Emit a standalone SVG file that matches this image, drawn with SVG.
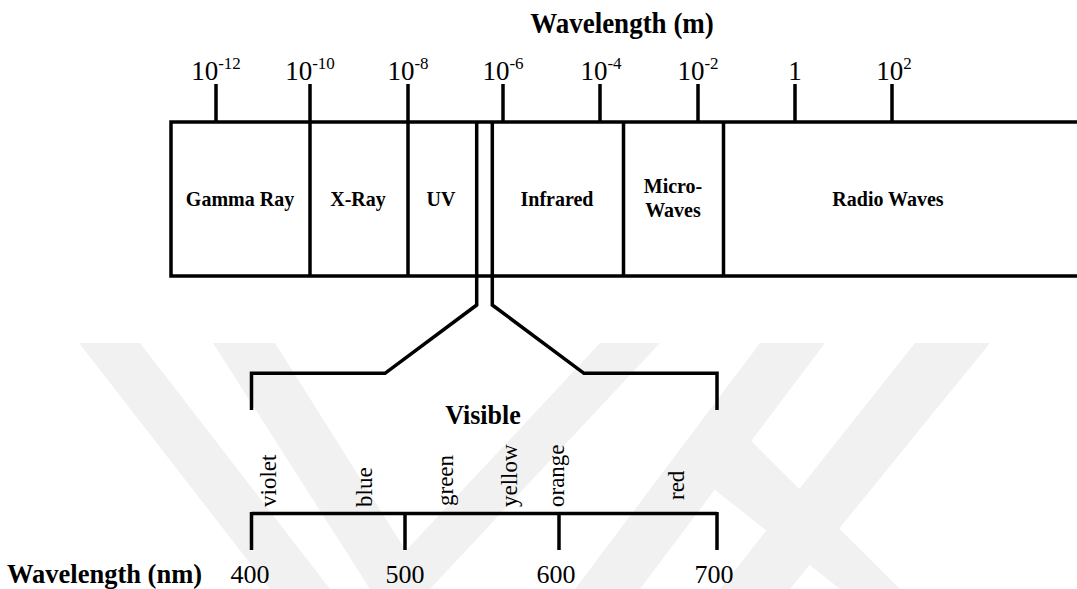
<svg xmlns="http://www.w3.org/2000/svg" width="1077" height="589" viewBox="0 0 1077 589">
<style>
.ln{stroke:#000;stroke-width:3.5;fill:none;stroke-linecap:butt;stroke-linejoin:miter}
.t{font-family:"Liberation Serif","Times New Roman",serif;fill:#000}
.b{font-weight:bold}
.lab{font-family:"Liberation Serif","Times New Roman",serif;font-weight:bold;font-size:20px;text-anchor:middle;fill:#000}
.tick{font-family:"Liberation Serif","Times New Roman",serif;font-size:27px;text-anchor:middle;fill:#000}
.col{font-family:"Liberation Serif","Times New Roman",serif;font-size:23px;fill:#000}
.num{font-family:"Liberation Serif","Times New Roman",serif;font-size:26px;text-anchor:middle;fill:#000}
.wm{fill:#f1f1f1}
</style>
<rect width="1077" height="589" fill="#fff"/>
<g id="watermark">
<polygon class="wm" points="79,343 140,343 330,589 270,589"/>
<polygon class="wm" points="213,343 275,343 430,589 370,589"/>
<polygon class="wm" points="600,343 660,343 430,589 370,589"/>
<polygon class="wm" points="760,343 825,343 640,589 575,589"/>
<polygon class="wm" points="915,343 990,343 790,589 720,589"/>
<polygon class="wm" points="690,470 740,430 900,589 840,589"/>
</g>
<text class="t b" font-size="27" text-anchor="middle" transform="translate(622,33) scale(1,1.08)">Wavelength (m)</text>
<g id="ticks-top">
<path class="ln" d="M216,84V122M310,84V122M408,84V122M503,84V122M600,84V122M698,84V122M795,84V122M892,84V122"/>
<text class="tick" x="216" y="80">10<tspan font-size="17" dy="-11.5">-12</tspan></text>
<text class="tick" x="310" y="80">10<tspan font-size="17" dy="-11.5">-10</tspan></text>
<text class="tick" x="408" y="80">10<tspan font-size="17" dy="-11.5">-8</tspan></text>
<text class="tick" x="503" y="80">10<tspan font-size="17" dy="-11.5">-6</tspan></text>
<text class="tick" x="601" y="80">10<tspan font-size="17" dy="-11.5">-4</tspan></text>
<text class="tick" x="698" y="80">10<tspan font-size="17" dy="-11.5">-2</tspan></text>
<text class="tick" x="795" y="80">1</text>
<text class="tick" x="894" y="80">10<tspan font-size="17" dy="-11.5">2</tspan></text>
</g>
<g id="spectrum-box">
<path class="ln" d="M1077,122H171V276H1077"/>
</g>
<g id="gamma"><path class="ln" d="M310,122V276"/><text class="lab" transform="translate(240,206) scale(1,1.1)">Gamma Ray</text></g>
<g id="xray"><path class="ln" d="M408,122V276"/><text class="lab" transform="translate(358,206) scale(1,1.1)">X-Ray</text></g>
<g id="uv"><text class="lab" transform="translate(441,206) scale(1,1.1)">UV</text></g>
<g id="infrared"><path class="ln" d="M623.5,122V276"/><text class="lab" transform="translate(557,206) scale(1,1.1)">Infrared</text></g>
<g id="microwaves"><path class="ln" d="M723.5,122V276"/><text class="lab" transform="translate(673,193) scale(1,1.1)">Micro-</text><text class="lab" transform="translate(673,217) scale(1,1.1)">Waves</text></g>
<g id="radio"><text class="lab" transform="translate(888,206) scale(1,1.1)">Radio Waves</text></g>
<g id="connectors">
<path class="ln" d="M476.7,122V305L385,373.3H251.5V410"/>
<path class="ln" d="M492.3,122V305L584,373.3H717V410"/>
</g>
<g id="visible">
<text class="t b" font-size="26" text-anchor="middle" transform="translate(483,424) scale(1,1.08)">Visible</text>
<text class="col" transform="translate(275.5,507) rotate(-90)">violet</text>
<text class="col" transform="translate(372,507) rotate(-90)">blue</text>
<text class="col" transform="translate(453,506) rotate(-90)">green</text>
<text class="col" transform="translate(517,507) rotate(-90)">yellow</text>
<text class="col" transform="translate(563.5,507) rotate(-90)">orange</text>
<text class="col" transform="translate(684,500) rotate(-90)">red</text>
</g>
<g id="nm-axis">
<path class="ln" d="M251.5,513.5H717M251.5,512V550M405,513.5V550M559,513.5V550M717,512V550"/>
<text class="t b" x="7" y="583" font-size="26.5">Wavelength (nm)</text>
<text class="num" x="250" y="583">400</text>
<text class="num" x="405" y="583">500</text>
<text class="num" x="556" y="583">600</text>
<text class="num" x="714" y="583">700</text>
</g>
</svg>
